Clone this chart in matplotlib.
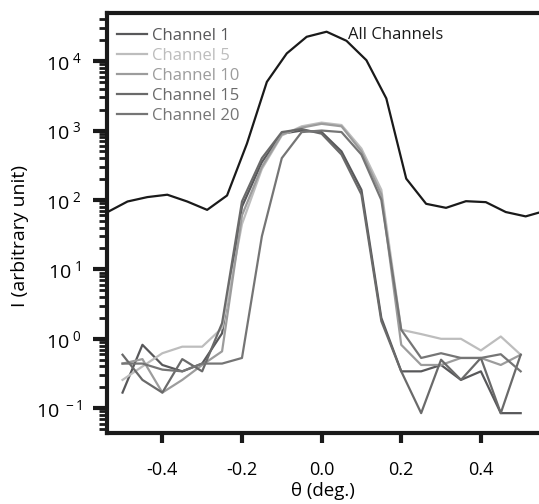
import numpy as np
import matplotlib
matplotlib.use("Agg")
import matplotlib.pyplot as plt
from matplotlib.ticker import LogLocator, FixedLocator, NullFormatter, FixedFormatter

plt.rcParams['font.family'] = ['Open Sans', 'DejaVu Sans']
plt.rcParams['mathtext.fontset'] = 'custom'
plt.rcParams['mathtext.rm'] = 'Open Sans'
plt.rcParams['mathtext.it'] = 'Open Sans'

# ---- data ----
theta_all = [-0.5375, -0.4875, -0.4375, -0.3875, -0.3375, -0.2875, -0.2375, -0.1875,
             -0.1375, -0.0875, -0.0375, 0.0125, 0.0625, 0.1125, 0.1625, 0.2125,
             0.2625, 0.3125, 0.3625, 0.4125, 0.4625, 0.5125, 0.5625]
all_channels = [67, 95, 110, 119, 95, 72, 116, 649, 5020, 12900, 22400, 26500,
                19600, 10300, 2900, 203, 88, 77, 96, 93, 67, 58, 70]

theta_ch = [-0.5, -0.45, -0.4, -0.35, -0.3, -0.25, -0.2, -0.15, -0.1, -0.05, 0.0,
            0.05, 0.1, 0.15, 0.2, 0.25, 0.3, 0.35, 0.4, 0.45, 0.5]
channel_1 = [0.168, 0.82, 0.42, 0.34, 0.44, 1.2, 80, 350, 900, 1000, 950,
             500, 140, 2.0, 0.34, 0.34, 0.42, 0.256, 0.34, 0.085, 0.085]
channel_5 = [0.256, 0.40, 0.62, 0.77, 0.77, 1.43, 45, 280, 850, 1150, 1300,
             1200, 550, 140, 1.35, 1.17, 1.0, 1.0, 0.68, 1.08, 0.59]
channel_10 = [0.44, 0.51, 0.168, 0.256, 0.42, 0.66, 60, 300, 880, 1100, 1250,
              1150, 500, 120, 0.82, 0.42, 0.42, 0.53, 0.53, 0.42, 0.59]
channel_15 = [0.59, 0.256, 0.168, 0.51, 0.34, 1.68, 95, 400, 950, 1050, 900,
              450, 120, 1.8, 0.34, 0.085, 0.5, 0.256, 0.53, 0.085, 0.59]
channel_20 = [0.44, 0.44, 0.36, 0.34, 0.44, 0.44, 0.53, 30, 400, 950, 1000,
              950, 450, 100, 1.35, 0.53, 0.62, 0.53, 0.53, 0.6, 0.34]

channel_labels = ["Channel 1", "Channel 5", "Channel 10", "Channel 15", "Channel 20"]
channel_series = [channel_1, channel_5, channel_10, channel_15, channel_20]
channel_colors = ["#58585a", "#bdbdbd", "#9c9c9c", "#6a6a6a", "#757575"]

x_ticks = [-0.4, -0.2, 0.0, 0.2, 0.4]
x_ticklabels = ["-0.4", "-0.2", "0.0", "0.2", "0.4"]
y_ticks = [1e-1, 1e0, 1e1, 1e2, 1e3, 1e4]
y_ticklabels = [r"$10^{\ -1}$", r"$10^{\ 0}$", r"$10^{\ 1}$", r"$10^{\ 2}$",
                r"$10^{\ 3}$", r"$10^{\ 4}$"]

# ---- figure ----
fig = plt.figure(figsize=(5.39, 5.04), dpi=100)
ax = fig.add_axes([107/539, 1-433/504, 432/539, 420/504])

for lab, ser, col in zip(channel_labels, channel_series, channel_colors):
    ax.plot(theta_ch, ser, color=col, lw=1.6, label=lab)
ax.plot(theta_all, all_channels, color="#1a1a1a", lw=1.6)

ax.set_yscale('log')
ax.set_xlim(-0.539, 0.546)
ax.set_ylim(0.044, 49300)

ax.text(0.066, 23700, "All Channels", fontsize=12, color="#1a1a1a",
        va='center', ha='left')

leg = ax.legend(loc='upper left', bbox_to_anchor=(0.023, 0.965), frameon=False,
                fontsize=12, handlelength=1.8, handletextpad=0.3,
                labelspacing=0.24, borderpad=0, borderaxespad=0,
                labelcolor='linecolor')

for s in ['left', 'bottom', 'top']:
    ax.spines[s].set_linewidth(3.0)
    ax.spines[s].set_color('#1a1a1a')
ax.spines['right'].set_visible(False)

ax.xaxis.set_major_locator(FixedLocator(x_ticks))
ax.xaxis.set_major_formatter(FixedFormatter(x_ticklabels))
ax.yaxis.set_major_locator(FixedLocator(y_ticks))
ax.yaxis.set_major_formatter(FixedFormatter(y_ticklabels))
ax.yaxis.set_minor_locator(LogLocator(base=10, subs=np.arange(2, 10), numticks=20))
ax.yaxis.set_minor_formatter(NullFormatter())

ax.tick_params(axis='x', which='major', direction='out', length=7, width=3,
               labelsize=13, pad=13, color='#1a1a1a')
ax.tick_params(axis='y', which='major', direction='out', length=10, width=3,
               labelsize=14, pad=8, color='#1a1a1a')
ax.tick_params(axis='y', which='minor', direction='out', length=6, width=2,
               color='#1a1a1a')

ax.set_xlabel("θ (deg.)", fontsize=13.5, labelpad=2)
ax.set_ylabel("I (arbitrary unit)", fontsize=14)
ax.yaxis.set_label_coords(-0.18, 0.47)

fig.savefig("out.png", dpi=100)
